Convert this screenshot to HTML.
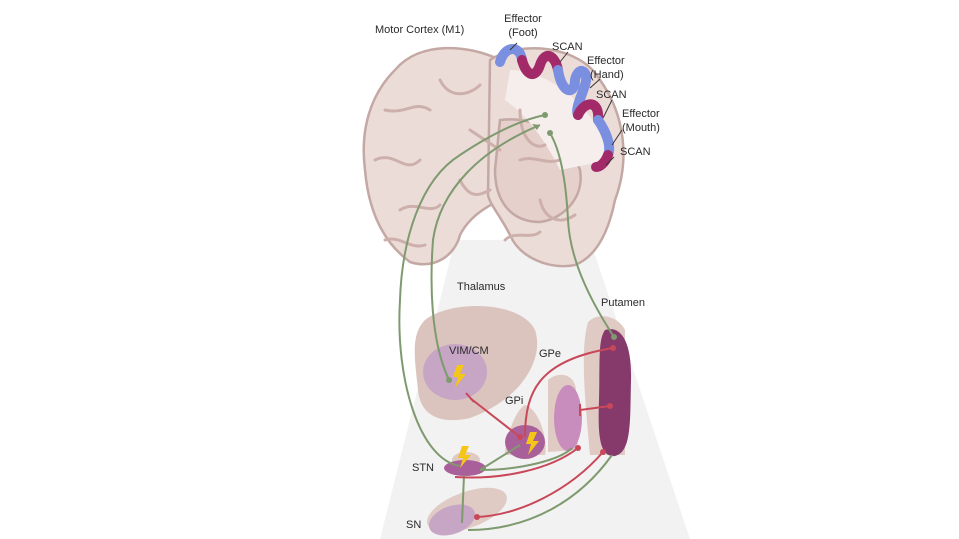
<!DOCTYPE html><html><head><style>body{margin:0;background:#fff}svg{display:block}text{font-family:"Liberation Sans",sans-serif;fill:#2a2a2a}</style></head><body>
<svg width="959" height="539" viewBox="0 0 959 539" xmlns="http://www.w3.org/2000/svg">
<rect width="959" height="539" fill="#fff"/>
<path d="M455 240 L590 240 L690 539 L380 539 Z" fill="#f2f2f2"/>
<g stroke="#c4a8a3" stroke-width="2.5">
<path d="M500 60 C470 45 420 40 395 70 C370 95 360 130 365 170 C368 205 380 240 410 262 C435 270 455 255 460 235 C470 215 490 205 500 200 Z" fill="#ecdcd8"/>
<path d="M490 60 C520 40 580 45 600 80 C625 115 630 160 615 200 C610 225 600 255 575 265 C550 270 520 258 510 235 C500 215 490 205 488 195 Z" fill="#ecdcd8"/>
<path d="M500 120 C540 115 570 140 580 170 C585 200 560 220 540 222 C510 222 495 200 495 170 Z" fill="#e5d0cc"/>
</g>
<path d="M510 70 C550 70 600 110 610 160 L560 170 C540 130 520 110 505 100 Z" fill="#f6eeec"/>
<g fill="none" stroke="#cdb0ab" stroke-width="3" stroke-linecap="round">
<path d="M385 110 C405 115 415 100 430 110"/><path d="M375 160 C395 150 405 175 420 160"/><path d="M400 210 C415 200 430 215 440 205"/><path d="M440 80 C450 100 470 95 480 85"/><path d="M470 130 L500 150"/><path d="M460 180 C470 200 480 195 490 190"/><path d="M520 110 C520 140 535 150 545 145"/><path d="M540 200 C545 220 560 225 575 215"/><path d="M385 240 C400 235 410 250 425 245"/><path d="M520 160 C535 155 545 165 560 160"/><path d="M505 240 C515 230 530 240 540 232"/>
</g>
<g fill="none" stroke-width="10" stroke-linecap="round">
<path d="M500 62 C505 45 520 45 522 60" stroke="#7a8fe0"/>
<path d="M522 60 C526 75 535 80 540 65 C545 50 555 55 558 70" stroke="#a22a68"/>
<path d="M558 70 C562 95 575 95 575 80 C578 65 590 70 585 85 C580 100 575 110 578 115" stroke="#7a8fe0"/>
<path d="M578 115 C585 100 600 100 598 120" stroke="#a22a68"/>
<path d="M598 120 C605 130 612 145 608 155" stroke="#7a8fe0"/>
<path d="M608 155 C605 163 600 167 596 167" stroke="#a22a68"/>
</g>
<g stroke="#333" stroke-width="1"><line x1="510" y1="50" x2="517" y2="43"/><line x1="560" y1="62" x2="568" y2="52"/><line x1="590" y1="88" x2="600" y2="79"/><line x1="603" y1="118" x2="612" y2="100"/><line x1="612" y1="145" x2="622" y2="130"/><line x1="606" y1="165" x2="614" y2="157"/></g>
<path d="M425 320 C450 300 520 300 535 330 C545 360 520 400 470 418 C440 425 420 415 418 390 C415 360 410 335 425 320 Z" fill="#dcc4be"/>
<ellipse cx="455" cy="372" rx="32" ry="28" fill="#c7a5c5"/>
<path d="M588 322 C600 310 620 318 625 330 L625 455 L590 455 C585 400 580 350 588 322 Z" fill="#e0cac4"/>
<path d="M605 330 C620 325 632 340 631 380 C630 420 632 452 615 456 C598 458 598 430 599 400 C600 360 598 340 605 330 Z" fill="#86396b"/>
<path d="M548 380 C560 370 575 375 576 390 L578 450 L548 452 Z" fill="#e0cac4"/>
<ellipse cx="568" cy="418" rx="14" ry="33" fill="#c98dbd"/>
<path d="M525 405 C540 410 548 440 545 455 L505 455 C505 440 515 410 525 405 Z" fill="#e0cac4"/>
<ellipse cx="525" cy="442" rx="20" ry="17" fill="#a9609a"/>
<ellipse cx="466" cy="460" rx="14" ry="8" fill="#e0cac4"/>
<ellipse cx="465" cy="468" rx="21" ry="8" fill="#a9609a"/>
<ellipse cx="467" cy="510" rx="42" ry="18" transform="rotate(-20 467 510)" fill="#e0cac4"/>
<ellipse cx="452" cy="520" rx="24" ry="14" transform="rotate(-20 452 520)" fill="#c7a5c5"/>
<g fill="#f5c518"><path d="M457 365 L464 365 L460 374 L466 374 L455 388 L458 377 L453 377 Z"/><path d="M530 432 L537 432 L533 441 L539 441 L528 455 L531 444 L526 444 Z"/><path d="M462 446 L469 446 L465 455 L471 455 L460 468 L463 458 L458 458 Z"/></g>
<g fill="none" stroke="#7e9a6e" stroke-width="2">
<path d="M460 466 C420 460 395 380 400 300 C402 240 420 180 460 155 C490 135 520 120 545 115"/>
<path d="M449 380 C430 340 430 280 433 240 C440 190 480 150 540 125"/>
<path d="M614 337 C590 300 570 260 568 220 C566 180 560 150 550 133"/>
<path d="M480 470 L520 445 M480 470 C520 470 560 460 572 448"/>
<path d="M464 475 L462 523"/>
<path d="M468 530 C530 530 580 500 612 455"/>
</g>
<g fill="#7e9a6e"><circle cx="545" cy="115" r="3"/><circle cx="550" cy="133" r="3"/><circle cx="449" cy="380" r="3"/><circle cx="614" cy="337" r="3"/><path d="M540 125 l-8 -1 l5 6 z"/></g>
<g fill="none" stroke="#c8485a" stroke-width="2">
<path d="M470 398 L520 437"/>
<path d="M525 437 C525 390 540 360 613 348"/>
<path d="M580 410 L610 406"/>
<path d="M578 448 C550 470 500 480 455 477"/>
<path d="M603 452 C570 490 520 515 477 517"/>
</g>
<g fill="#c8485a"><circle cx="613" cy="348" r="3"/><circle cx="610" cy="406" r="3"/><circle cx="578" cy="448" r="3"/><circle cx="603" cy="452" r="3"/><circle cx="477" cy="517" r="3"/><circle cx="520" cy="437" r="3"/></g>
<g stroke="#c8485a" stroke-width="2"><line x1="466" y1="393" x2="474" y2="402"/><line x1="580" y1="404" x2="580" y2="416"/></g>
<g font-size="11">
<text x="375" y="33">Motor Cortex (M1)</text>
<text x="523" y="22" text-anchor="middle">Effector</text><text x="523" y="36" text-anchor="middle">(Foot)</text>
<text x="552" y="50">SCAN</text>
<text x="587" y="64">Effector</text><text x="590" y="78">(Hand)</text>
<text x="596" y="98">SCAN</text>
<text x="622" y="117">Effector</text><text x="622" y="131">(Mouth)</text>
<text x="620" y="155">SCAN</text>
<text x="457" y="290">Thalamus</text>
<text x="601" y="306">Putamen</text>
<text x="449" y="354">VIM/CM</text>
<text x="539" y="357">GPe</text>
<text x="505" y="404">GPi</text>
<text x="412" y="471">STN</text>
<text x="406" y="528">SN</text>
</g>
</svg></body></html>
